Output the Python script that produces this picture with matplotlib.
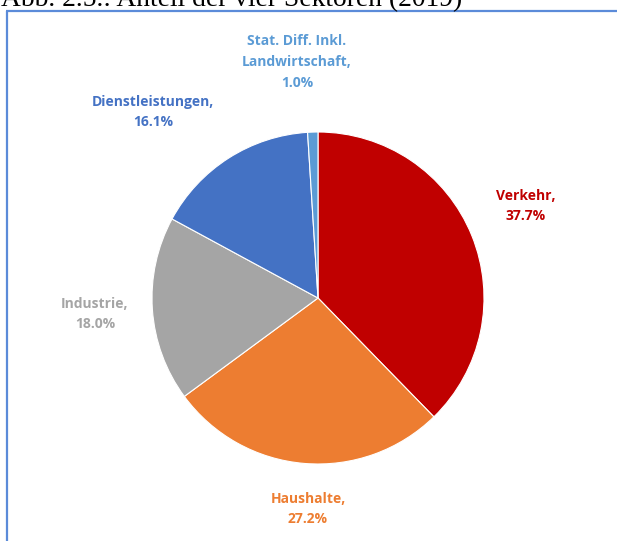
import matplotlib.pyplot as plt

labels = ['Verkehr', 'Haushalte', 'Industrie', 'Dienstleistungen', 'Stat. Diff. Inkl.\nLandwirtschaft']
shares = [37.7, 27.2, 18.0, 16.1, 1.0]
colors = ['#C00000', '#ED7D31', '#A5A5A5', '#4472C4', '#5B9BD5']

W, H = 617, 541
fig = plt.figure(figsize=(W / 100, H / 100), dpi=100)
ax = fig.add_axes([0, 0, 1, 1])

ax.pie(shares, colors=colors, startangle=90, counterclock=False,
       center=(318, H - 298), radius=166, frame=True,
       wedgeprops=dict(edgecolor='white', linewidth=0.8))
ax.set_xlim(0, W)
ax.set_ylim(0, H)
ax.set_aspect('equal')
ax.axis('off')

# label positions (pixel coords from the top-left)
pos = [(526, 206), (308, 509), (95, 314), (153, 112), (297, 62)]
for lab, val, col, (x, y) in zip(labels, shares, colors, pos):
    ax.text(x, H - y, f'{lab},\n{val:.1f}%', color=col, ha='center', va='center',
            fontsize=10, fontweight='bold', family='Open Sans', linespacing=1.6)

# frame lines of the chart box
ax.plot([6.5, 6.5], [0, H - 11], color='#5B8BD9', lw=1.6, solid_capstyle='butt')
ax.plot([6, W], [H - 11, H - 11], color='#5B8BD9', lw=1.6, solid_capstyle='butt')

# caption above the chart, cut off by the top edge as in the original
ax.text(1, H - 6, 'Abb. 2.5.: Anteil der vier Sektoren (2019)', family='Liberation Serif',
        fontsize=19.8, ha='left', va='baseline', color='black', clip_on=False)

fig.savefig('out.png', dpi=100)
